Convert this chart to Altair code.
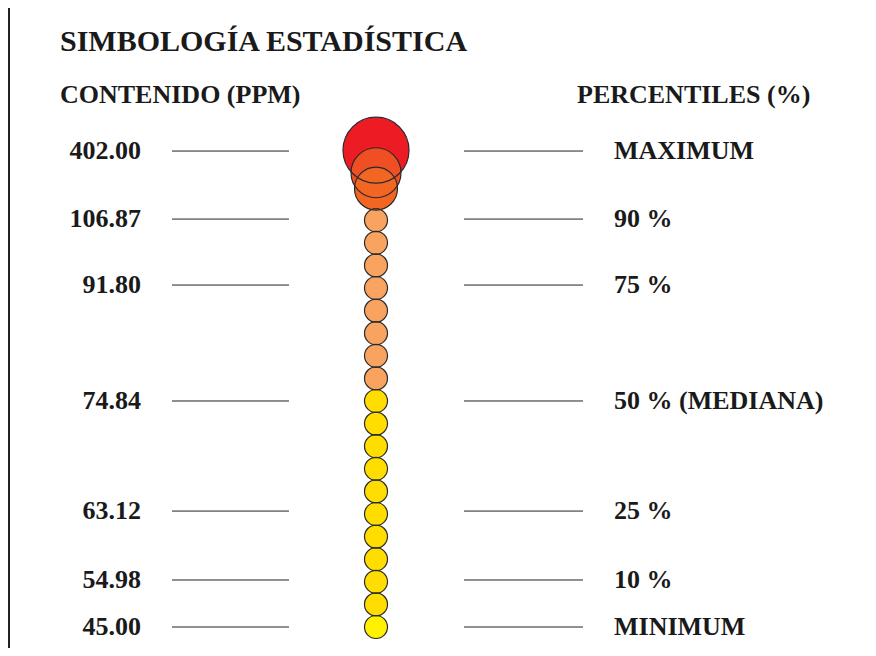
import altair as alt
import pandas as pd

# ---- data ----
circle_slot = [21.1, 20.1, 19.4,
               18, 17, 16, 15, 14, 13, 12, 11,
               10, 9, 8, 7, 6, 5, 4, 3, 2, 1, 0]
circle_class = ["max", "p98", "p95",
                "p90", "p90", "p90", "p90", "p90", "p90", "p90", "p90",
                "p50", "p50", "p50", "p50", "p50", "p50", "p50", "p50", "p50", "p50",
                "min"]

label_slot = [21.06, 18.05, 15.13, 10.0, 5.13, 2.08, 0.0]
content_labels = ["402.00", "106.87", "91.80", "74.84", "63.12", "54.98", "45.00"]
percentile_labels = ["MAXIMUM", "90 %", "75 %", "50 % (MEDIANA)", "25 %", "10 %", "MINIMUM"]

title_text = "SIMBOLOGÍA ESTADÍSTICA"
header_left = "CONTENIDO (PPM)"
header_right = "PERCENTILES (%)"

# ---- tables ----
circles = pd.DataFrame({"slot": circle_slot, "cls": circle_class,
                        "order": list(range(len(circle_slot)))})
labels = pd.DataFrame({"slot": label_slot, "content": content_labels,
                       "pct": percentile_labels})
heads = pd.DataFrame({"t": [title_text]})

FONT = "Liberation Serif"
yscale = alt.Scale(domain=[-0.929, 27.389], zero=False, nice=False)
Y = alt.Y("slot:Q", scale=yscale, axis=None)

cls_domain = ["max", "p98", "p95", "p90", "p50", "min"]
color_scale = alt.Scale(domain=cls_domain,
                        range=["#ED1C24", "#F04E23", "#F26522", "#F9A361", "#FFDD00", "#FFF200"])
size_scale = alt.Scale(type="ordinal", domain=cls_domain,
                       range=[4356, 2500, 1849, 529, 529, 529])

fills = alt.Chart(circles).mark_circle(opacity=1).encode(
    x=alt.value(368), y=Y,
    color=alt.Color("cls:N", scale=color_scale, legend=None),
    size=alt.Size("cls:N", scale=size_scale, legend=None),
    order=alt.Order("order:Q"),
)
strokes = alt.Chart(circles).mark_point(shape="circle", filled=False, color="#2a2a2a",
                                         strokeWidth=1.2, opacity=1).encode(
    x=alt.value(368), y=Y,
    size=alt.Size("cls:N", scale=size_scale, legend=None),
    order=alt.Order("order:Q"),
)

rule_left = alt.Chart(labels).mark_rule(color="#222222", strokeWidth=1).encode(
    x=alt.value(164), x2=alt.value(281), y=Y)
rule_right = alt.Chart(labels).mark_rule(color="#222222", strokeWidth=1).encode(
    x=alt.value(456), x2=alt.value(575), y=Y)

text_left = alt.Chart(labels).mark_text(font=FONT, fontSize=26, fontWeight="bold",
                                        align="right", baseline="middle", color="#1a1a1a").encode(
    x=alt.value(133), y=Y, text="content:N")
text_right = alt.Chart(labels).mark_text(font=FONT, fontSize=26, fontWeight="bold",
                                         align="left", baseline="middle", color="#1a1a1a").encode(
    x=alt.value(606), y=Y, text="pct:N")

title = alt.Chart(heads).mark_text(font=FONT, fontSize=30, fontWeight="bold",
                                   align="left", baseline="middle", color="#1a1a1a").encode(
    x=alt.value(52), y=alt.value(34), text=alt.value(title_text))
h_left = alt.Chart(heads).mark_text(font=FONT, fontSize=26, fontWeight="bold",
                                    align="left", baseline="middle", color="#1a1a1a").encode(
    x=alt.value(52), y=alt.value(87), text=alt.value(header_left))
h_right = alt.Chart(heads).mark_text(font=FONT, fontSize=26, fontWeight="bold",
                                     align="left", baseline="middle", color="#1a1a1a").encode(
    x=alt.value(569), y=alt.value(87), text=alt.value(header_right))

border = alt.Chart(heads).mark_rule(color="#222222", strokeWidth=2).encode(
    x=alt.value(1), y=alt.value(0), y2=alt.value(640))

chart = alt.layer(border, title, h_left, h_right, rule_left, rule_right,
                  text_left, text_right, fills, strokes).properties(
    width=860, height=640,
    autosize=alt.AutoSizeParams(type="none"),
    padding=0,
).configure_view(stroke=None)

chart.save("out.html", embed_options={"renderer": "svg", "actions": False})
